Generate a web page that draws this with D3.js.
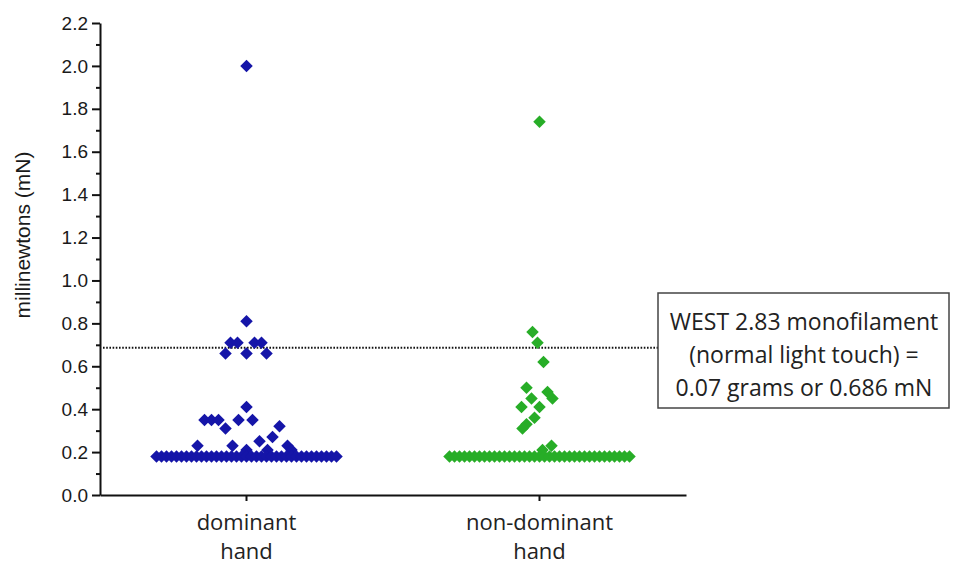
<!DOCTYPE html>
<html>
<head>
<meta charset="utf-8">
<script src="https://cdn.jsdelivr.net/npm/d3@7"></script>
<style>
  html, body { margin: 0; padding: 0; background: #ffffff; }
  svg { display: block; }
</style>
</head>
<body>
<svg id="chart" width="954" height="564"></svg>
<script>
// ---------------- DATA ----------------
const categories = ["dominant hand", "non-dominant hand"];
const categoryLines = [["dominant", "hand"], ["non-dominant", "hand"]];

const yTicks = [0.0, 0.2, 0.4, 0.6, 0.8, 1.0, 1.2, 1.4, 1.6, 1.8, 2.0, 2.2];
const yMinorTicks = [0.1, 0.3, 0.5, 0.7, 0.9, 1.1, 1.3, 1.5, 1.7, 1.9, 2.1];

const dominantValues = [
  2.00, 0.81,
  0.71, 0.71, 0.71, 0.71,
  0.66, 0.66, 0.66,
  0.41,
  0.35, 0.35, 0.35, 0.35, 0.35,
  0.31, 0.32, 0.27, 0.25, 0.23, 0.23, 0.21, 0.21, 0.23, 0.21,
  0.18, 0.18, 0.18, 0.18, 0.18, 0.18, 0.18, 0.18, 0.18, 0.18,
  0.18, 0.18, 0.18, 0.18, 0.18, 0.18, 0.18, 0.18, 0.18, 0.18,
  0.18, 0.18, 0.18, 0.18, 0.18, 0.18, 0.18, 0.18, 0.18, 0.18,
  0.18, 0.18, 0.18, 0.18, 0.18, 0.18, 0.18
];
const dominantJitter = [
  0.00, 0.00,
  -0.16, -0.09, 0.08, 0.15,
  -0.21, 0.00, 0.20,
  0.00,
  -0.42, -0.35, -0.28, -0.08, 0.06,
  -0.21, 0.33, 0.26, 0.13, -0.49, -0.14, 0.00, 0.21, 0.41, 0.45,
  -0.90, -0.85, -0.80, -0.75, -0.70, -0.65, -0.60, -0.55, -0.50, -0.45,
  -0.40, -0.35, -0.30, -0.25, -0.20, -0.15, -0.10, -0.05, 0.00, 0.05,
  0.10, 0.15, 0.20, 0.25, 0.30, 0.35, 0.40, 0.45, 0.50, 0.55,
  0.60, 0.65, 0.70, 0.75, 0.80, 0.85, 0.90
];

const nonDominantValues = [
  1.74, 0.76, 0.71, 0.62, 0.50, 0.48, 0.45, 0.45, 0.41, 0.41,
  0.36, 0.33, 0.31, 0.23, 0.21,
  0.18, 0.18, 0.18, 0.18, 0.18, 0.18, 0.18, 0.18, 0.18, 0.18,
  0.18, 0.18, 0.18, 0.18, 0.18, 0.18, 0.18, 0.18, 0.18, 0.18,
  0.18, 0.18, 0.18, 0.18, 0.18, 0.18, 0.18, 0.18, 0.18, 0.18,
  0.18, 0.18, 0.18, 0.18, 0.18, 0.18, 0.18
];
const nonDominantJitter = [
  0.00, -0.07, -0.02, 0.04, -0.13, 0.08, 0.13, -0.08, 0.00, -0.18,
  -0.05, -0.13, -0.17, 0.12, 0.03,
  -0.90, -0.85, -0.80, -0.75, -0.70, -0.65, -0.60, -0.55, -0.50, -0.45,
  -0.40, -0.35, -0.30, -0.25, -0.20, -0.15, -0.10, -0.05, 0.00, 0.05,
  0.10, 0.15, 0.20, 0.25, 0.30, 0.35, 0.40, 0.45, 0.50, 0.55,
  0.60, 0.65, 0.70, 0.75, 0.80, 0.85, 0.90
];

const thresholdValue = 0.686;
const annotationLines = [
  "WEST 2.83 monofilament",
  "(normal light touch) =",
  "0.07 grams or 0.686 mN"
];
const yTitle = "millinewtons (mN)";

// ---------------- LAYOUT ----------------
const svg = d3.select("#chart");
const plotLeft = 100, plotRight = 686, plotTop = 23, plotBottom = 495;
const colors = ["#1515a8", "#27ad27"];

const x = d3.scaleBand().domain(categories).range([plotLeft, plotRight]);
const y = d3.scaleLinear().domain([0, 2.2]).range([plotBottom, plotTop]);
const jitter = d3.scaleLinear().domain([-1, 1]).range([-100, 100]);

const groups = [
  { cat: categories[0], values: dominantValues, jit: dominantJitter, color: colors[0] },
  { cat: categories[1], values: nonDominantValues, jit: nonDominantJitter, color: colors[1] }
];

// threshold dotted line
svg.append("line")
  .attr("x1", plotLeft + 3).attr("x2", 658)
  .attr("y1", y(thresholdValue)).attr("y2", y(thresholdValue))
  .attr("stroke", "#111").attr("stroke-width", 2)
  .attr("stroke-dasharray", "1.6,1.6");

// points
const sym = d3.symbol().type(d3.symbolSquare).size(78);
groups.forEach(g => {
  const cx = x(g.cat) + x.bandwidth() / 2;
  const pts = g.values.map((v, i) => ({ v, j: g.jit[i] }));
  svg.append("g").selectAll("path")
    .data(pts)
    .join("path")
    .attr("d", sym)
    .attr("transform", d => `translate(${cx + jitter(d.j)},${y(d.v)}) rotate(45)`)
    .attr("fill", g.color);
});

// y axis
const fontAxis = "'Liberation Sans', Arial, sans-serif";
const yAxis = svg.append("g")
  .attr("transform", `translate(${plotLeft},0)`)
  .call(d3.axisLeft(y).tickValues(yTicks).tickFormat(d3.format(".1f"))
    .tickSize(8).tickSizeOuter(0).tickPadding(4));
yAxis.selectAll("text").attr("font-size", 19).attr("font-family", fontAxis).attr("fill", "#1a1a1a");
yAxis.selectAll("line").attr("stroke", "#111").attr("stroke-width", 2);
yAxis.select(".domain").attr("stroke", "#111").attr("stroke-width", 2);

const yMinor = svg.append("g")
  .attr("transform", `translate(${plotLeft},0)`)
  .call(d3.axisLeft(y).tickValues(yMinorTicks).tickFormat("").tickSize(4).tickSizeOuter(0));
yMinor.select(".domain").remove();
yMinor.selectAll("line").attr("stroke", "#111").attr("stroke-width", 2);

// x axis
const xAxis = svg.append("g")
  .attr("transform", `translate(0,${plotBottom})`)
  .call(d3.axisBottom(x).tickSize(6).tickSizeOuter(0).tickFormat(""));
xAxis.select(".domain").attr("stroke", "#111").attr("stroke-width", 2);
xAxis.selectAll("line").attr("stroke", "#111").attr("stroke-width", 2);

// x category labels (two lines)
const fontLabel = "'Open Sans', sans-serif";
categories.forEach((c, i) => {
  const cx = x(c) + x.bandwidth() / 2;
  const t = svg.append("text")
    .attr("text-anchor", "middle")
    .attr("font-family", fontLabel)
    .attr("font-size", 22)
    .attr("fill", "#222");
  categoryLines[i].forEach((ln, k) => {
    t.append("tspan").attr("x", cx).attr("y", 530 + k * 29).text(ln);
  });
});

// y title
svg.append("text")
  .attr("transform", `translate(30,235) rotate(-90)`)
  .attr("text-anchor", "middle")
  .attr("font-family", fontAxis)
  .attr("font-size", 21)
  .attr("fill", "#1a1a1a")
  .text(yTitle);

// annotation box
svg.append("rect")
  .attr("x", 658).attr("y", 293)
  .attr("width", 291).attr("height", 115)
  .attr("fill", "#fff")
  .attr("stroke", "#444").attr("stroke-width", 1.5);
const ann = svg.append("text")
  .attr("text-anchor", "middle")
  .attr("font-family", fontLabel)
  .attr("font-size", 23)
  .attr("fill", "#222");
annotationLines.forEach((ln, k) => {
  ann.append("tspan").attr("x", 804).attr("y", 330 + k * 33).text(ln);
});
</script>
</body>
</html>
